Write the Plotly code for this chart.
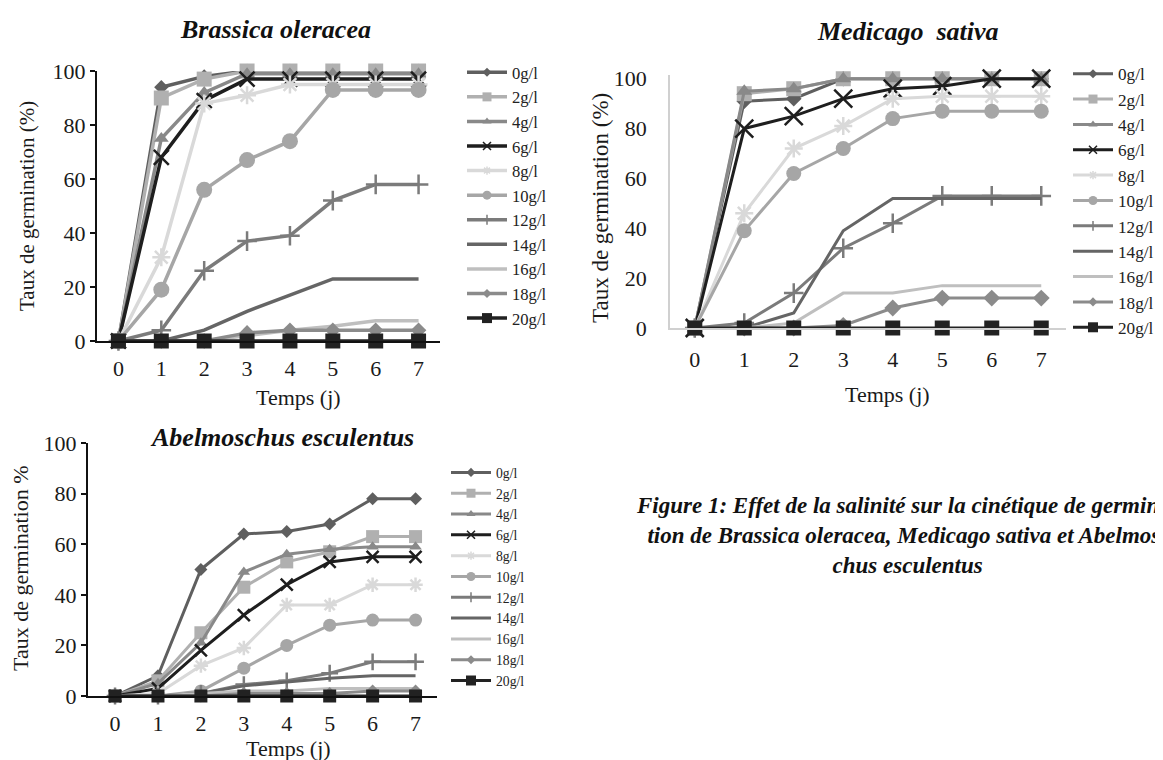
import plotly.graph_objects as go

# The page adds an 8px body margin, so the figure is made 8px smaller and all
# reference pixel positions are shifted by that offset.
PAGE_W, PAGE_H = 1163, 760
OFF = 8
W, H = PAGE_W - OFF, PAGE_H - OFF

days = [0, 1, 2, 3, 4, 5, 6, 7]
concentrations = ["0g/l", "2g/l", "4g/l", "6g/l", "8g/l", "10g/l",
                  "12g/l", "14g/l", "16g/l", "18g/l", "20g/l"]
y_ticks = [0, 20, 40, 60, 80, 100]

brassica_oleracea = [
    [0, 94, 98, 100, 100, 100, 100, 100],
    [0, 90, 97, 100, 100, 100, 100, 100],
    [0, 75, 92, 99, 99, 99, 99, 99],
    [0, 68, 89, 97, 97, 97, 97, 97],
    [0, 31, 88, 91, 95, 95, 95, 95],
    [0, 19, 56, 67, 74, 93, 93, 93],
    [0, 4, 26, 37, 39, 52, 58, 58],
    [0, 0, 4, 11, 17, 23, 23, 23],
    [0, 0, 0, 2, 4, 5.5, 7.5, 7.5],
    [0, 0, 0, 3, 4, 4, 4, 4],
    [0, 0, 0, 0, 0, 0, 0, 0],
]

medicago_sativa = [
    [0, 91, 92, 100, 100, 100, 100, 100],
    [0, 94, 96, 100, 100, 100, 100, 100],
    [0, 95, 96, 100, 100, 100, 100, 100],
    [0, 80, 85, 92, 96, 97, 100, 100],
    [0, 46, 72, 81, 92, 93, 93, 93],
    [0, 39, 62, 72, 84, 87, 87, 87],
    [0, 2, 14, 32, 42, 53, 53, 53],
    [0, 0, 6, 39, 52, 52, 52, 52],
    [0, 0, 2, 14, 14, 17, 17, 17],
    [0, 0, 0, 1, 8, 12, 12, 12],
    [0, 0, 0, 0, 0, 0, 0, 0],
]

abelmoschus_esculentus = [
    [0, 8, 50, 64, 65, 68, 78, 78],
    [0, 6, 25, 43, 53, 57, 63, 63],
    [0, 5, 21, 49, 56, 58, 59, 59],
    [0, 3, 18, 32, 44, 53, 55, 55],
    [0, 1, 12, 19, 36, 36, 44, 44],
    [0, 0, 2, 11, 20, 28, 30, 30],
    [0, 0, 1, 4.5, 6, 9, 13.5, 13.5],
    [0, 0, 1, 4, 5.5, 7, 8, 8],
    [0, 0, 1, 2, 2, 3, 3, 3],
    [0, 0, 0, 1, 1, 1, 2, 2],
    [0, 0, 0, 0, 0, 0, 0, 0],
]

colors = ["#5f5f5f", "#b0b0b0", "#898989", "#1e1e1e", "#d9d9d9", "#a6a6a6",
          "#7b7b7b", "#656565", "#bfbfbf", "#8b8b8b", "#222222"]
symbols = ["diamond", "square", "triangle-up", "x-thin-open", "asterisk-open", "circle",
           "cross-thin-open", None, None, "diamond", "square"]
legend_sizes = [7, 9, 8, 8, 7, 9, 7, 0, 0, 7, 10]

SERIF = "Liberation Serif"


def px(x):
    return (x - OFF) / W


def py(y):
    return 1 - (y - OFF) / H


def make_marker(sym, size, c, lw=2.5):
    if sym.endswith("-open"):
        return dict(symbol=sym, size=size, color=c, line=dict(color=c, width=lw))
    return dict(symbol=sym, size=size, color=c, line=dict(width=0))


fig = go.Figure()

panels = [
    dict(data=brassica_oleracea, xa="x", ya="y", legend="legend", lw=3.5,
         sizes=[11, 15, 13, 15, 15, 16, 14, 0, 0, 12, 15]),
    dict(data=medicago_sativa, xa="x2", ya="y2", legend="legend2", lw=3,
         sizes=[12, 15, 14, 18, 15, 15, 14, 0, 0, 13, 15]),
    dict(data=abelmoschus_esculentus, xa="x3", ya="y3", legend="legend3", lw=3,
         sizes=[10, 13, 11, 12, 12, 13, 12, 0, 0, 10, 13]),
]

for p in panels:
    for i, name in enumerate(concentrations):
        sym = symbols[i]
        c = colors[i]
        if sym is None:
            mode, marker, lmarker = "lines", None, None
        else:
            mode = "lines+markers"
            marker = make_marker(sym, p["sizes"][i], c)
            lmarker = make_marker(sym, legend_sizes[i], c, lw=1.5)
        fig.add_trace(go.Scatter(
            x=days, y=p["data"][i], name=name, mode=mode,
            line=dict(color=c, width=p["lw"]),
            marker=marker, xaxis=p["xa"], yaxis=p["ya"],
            showlegend=False, cliponaxis=False,
        ))
        # legend-only entry with small markers (as in the reference legends)
        fig.add_trace(go.Scatter(
            x=[None], y=[None], name=name, mode=mode,
            line=dict(color=c, width=p["lw"]),
            marker=lmarker, xaxis=p["xa"], yaxis=p["ya"],
            legend=p["legend"], showlegend=True,
        ))

tickfont = dict(family=SERIF, size=22, color="#1a1a1a")

common_x = dict(range=[-0.5, 7.5], tickvals=days, showgrid=False, zeroline=False,
                tickfont=tickfont, ticks="", fixedrange=True)
common_y = dict(range=[0, 100], tickvals=y_ticks, showgrid=False, zeroline=False,
                tickfont=tickfont, fixedrange=True)

layout = dict(
    width=W, height=H,
    margin=dict(l=0, r=0, t=0, b=0, autoexpand=False),
    paper_bgcolor="white", plot_bgcolor="white",
    # Brassica
    xaxis=dict(common_x, domain=[px(97), px(440)], anchor="y",
               showline=True, linecolor="#111", linewidth=2, ticklabelstandoff=7),
    yaxis=dict(common_y, domain=[py(341), py(71)], anchor="x",
               showline=True, linecolor="#111", linewidth=2,
               ticks="outside", ticklen=5, tickcolor="#111", tickwidth=2),
    # Medicago
    xaxis2=dict(common_x, domain=[px(670), px(1066)], anchor="y2",
                showline=True, linecolor="#d0d0d0", linewidth=1.5, ticklabelstandoff=11),
    yaxis2=dict(common_y, range=[0, 101.5], domain=[py(328), py(75)], anchor="x2",
                showline=True, linecolor="#d0d0d0", linewidth=1.5, ticks="",
                ticklabelstandoff=17),
    # Abelmoschus
    xaxis3=dict(common_x, range=[-0.63, 7.5], domain=[px(88), px(437)], anchor="y3",
                showline=True, linecolor="#111", linewidth=2, ticklabelstandoff=7),
    yaxis3=dict(common_y, domain=[py(696), py(443)], anchor="x3",
                showline=True, linecolor="#111", linewidth=2,
                ticks="outside", ticklen=5, tickcolor="#111", tickwidth=2),
    legend=dict(x=px(462), y=py(55), xanchor="left", yanchor="top",
                font=dict(family=SERIF, size=16.6, color="#222"),
                bgcolor="rgba(0,0,0,0)", itemwidth=40),
    legend2=dict(x=px(1068), y=py(56), xanchor="left", yanchor="top",
                 font=dict(family=SERIF, size=17.2, color="#222"),
                 bgcolor="rgba(0,0,0,0)", itemwidth=40),
    legend3=dict(x=px(446), y=py(457), xanchor="left", yanchor="top",
                 font=dict(family=SERIF, size=13.7, color="#222"),
                 bgcolor="rgba(0,0,0,0)", itemwidth=40),
    showlegend=True,
)
fig.update_layout(**layout)

title_font = dict(family=SERIF, size=26, color="#111", weight="bold", style="italic")
caption_font = dict(family=SERIF, size=23, color="#111", weight="bold", style="italic")


def lab(size):
    return dict(family=SERIF, size=size, color="#1a1a1a")


annotations = [
    # panel titles
    dict(text="Brassica oleracea", x=px(275), y=py(29), font=title_font),
    dict(text="Medicago\u00a0 sativa", x=px(908), y=py(32), font=title_font),
    dict(text="Abelmoschus esculentus", x=px(282), y=py(437), font=title_font),
    # x axis titles
    dict(text="Temps (j)", x=px(299), y=py(398), font=lab(22)),
    dict(text="Temps (j)", x=px(887), y=py(394), font=lab(22)),
    dict(text="Temps (j)", x=px(288), y=py(748), font=lab(22)),
    # y axis titles
    dict(text="Taux de germination (%)", x=px(27), y=py(206), font=lab(21), textangle=-90),
    dict(text="Taux de germination (%)", x=px(600), y=py(208), font=lab(23), textangle=-90),
    dict(text="Taux de germination %", x=px(20), y=py(568), font=lab(22), textangle=-90),
    # caption (cut by the page edge as in the original)
    dict(text="Figure 1: Effet de la salinité sur la cinétique de germina-<br>"
              "tion de Brassica oleracea, Medicago sativa et Abelmos-<br>"
              "chus esculentus",
         x=px(907), y=py(535), align="center", font=caption_font),
]
for a in annotations:
    a.update(xref="paper", yref="paper", showarrow=False, xanchor="center", yanchor="middle")
fig.update_layout(annotations=annotations)

fig.write_html("out.html")
